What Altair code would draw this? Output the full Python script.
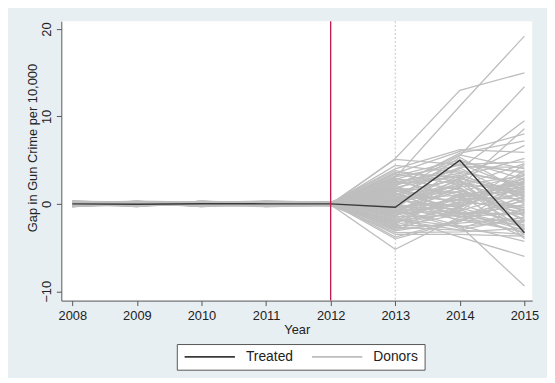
import altair as alt
import pandas as pd

years = [2008, 2009, 2010, 2011, 2012, 2013, 2014, 2015]
treated_gap = [0.0, -0.05, 0.02, 0.0, 0.0, -0.4, 5.0, -3.3]

d2008 = [0.2,-0.1,0.1,0.0,-0.2,0.1,0.3,-0.1,0.0,0.2,-0.3,0.1,-0.2,0.0,0.1,-0.1,0.2,0.0,-0.2,0.1,
         0.0,0.1,-0.1,0.2,-0.2,0.0,0.1,-0.3,0.2,0.0,-0.1,0.1,0.0,-0.2,0.3,-0.1,0.1,0.0,-0.1,0.2,
         0.0,-0.2,0.1,0.0,0.2,-0.1,0.0,0.1,-0.2,0.1,0.0,0.2,-0.1,0.0,0.1,-0.3,0.2,0.0,-0.1,0.1,
         0.0,0.2,-0.2,0.1,0.0,-0.1,0.3,0.0,-0.2,0.1,
         0.3,-0.3,0.2,-0.2,0.3,-0.1,0.1,-0.3,0.2,0.0,-0.2,0.3,-0.1,0.2,-0.3,0.1,0.0,0.3,-0.2,0.1]
d2009 = [-0.1,0.2,0.0,0.1,-0.1,-0.2,0.1,0.2,-0.1,0.0,0.1,-0.2,0.0,0.2,-0.1,0.1,0.0,-0.2,0.1,0.0,
         0.2,-0.1,0.0,0.1,0.0,-0.2,0.2,0.1,-0.1,0.0,0.1,-0.1,0.2,0.0,-0.2,0.1,0.0,-0.1,0.2,0.0,
         -0.1,0.1,0.0,-0.2,0.1,0.2,-0.1,0.0,0.1,-0.1,0.2,0.0,-0.2,0.1,0.0,0.1,-0.1,0.2,0.0,-0.2,
         0.1,0.0,-0.1,0.2,-0.1,0.0,0.1,-0.2,0.0,0.2,
         -0.2,0.3,-0.3,0.1,0.2,-0.2,0.3,-0.1,0.1,-0.3,0.2,-0.1,0.3,-0.2,0.0,0.2,-0.3,0.1,0.3,-0.1]
d2010 = [0.1,0.0,-0.2,0.2,0.0,0.1,-0.1,0.0,0.2,-0.1,0.0,0.1,0.2,-0.1,0.0,-0.2,0.1,0.1,0.0,-0.1,
         0.1,0.0,0.2,-0.2,0.1,0.0,-0.1,0.0,0.1,0.2,-0.2,0.0,0.1,-0.1,0.0,0.2,-0.1,0.1,0.0,-0.1,
         0.2,0.0,-0.1,0.1,0.0,-0.2,0.1,0.2,0.0,-0.1,0.1,-0.1,0.0,0.2,-0.1,0.0,0.1,-0.2,0.1,0.0,
         -0.1,0.1,0.2,0.0,-0.1,0.1,0.0,-0.1,0.2,0.0,
         0.2,-0.2,0.3,-0.3,0.1,0.3,-0.2,0.2,-0.1,0.3,-0.3,0.1,-0.2,0.3,0.2,-0.3,0.1,-0.1,0.2,-0.2]
d2011 = [0.0,0.1,-0.1,0.0,0.2,-0.1,0.0,0.1,-0.2,0.1,0.2,0.0,-0.1,0.1,-0.2,0.0,0.1,-0.1,0.2,0.0,
         -0.1,0.2,0.0,-0.1,0.1,0.1,-0.2,0.0,0.0,0.1,-0.1,0.2,-0.1,0.0,0.1,-0.1,0.0,0.2,-0.1,0.1,
         0.0,-0.1,0.2,0.0,-0.1,0.1,0.0,-0.2,0.1,0.0,-0.1,0.1,0.2,-0.1,0.0,0.1,-0.1,0.0,0.2,-0.1,
         0.1,-0.2,0.0,0.1,0.2,-0.1,0.0,0.1,-0.1,0.0,
         -0.3,0.2,-0.1,0.3,-0.2,0.1,-0.3,0.3,0.2,-0.2,0.1,-0.3,0.2,0.0,0.3,-0.1,0.2,-0.2,-0.1,0.3]
d2012 = [0.1,-0.1,0.0,0.1,-0.1,0.0,0.2,-0.1,0.1,0.0,-0.1,0.0,0.1,-0.2,0.0,0.1,-0.1,0.0,0.1,0.1,
         0.0,-0.1,0.1,0.0,-0.1,0.2,0.0,-0.1,0.0,-0.1,0.1,0.0,-0.2,0.1,0.0,0.0,0.1,-0.1,0.0,0.2,
         -0.1,0.0,0.1,-0.1,0.0,0.1,-0.2,0.0,0.1,0.0,-0.1,0.0,0.1,0.0,-0.1,0.2,0.0,-0.1,0.1,0.0,
         0.0,0.1,-0.1,0.0,0.1,-0.1,0.0,0.2,-0.1,0.0,
         0.1,-0.2,0.2,-0.1,0.0,0.2,-0.2,0.1,-0.1,0.2,0.0,-0.2,0.1,-0.1,0.2,0.0,-0.1,0.1,-0.2,0.2]
d2013 = [3.0,5.2,1.5,2.5,1.0,3.5,2.0,-1.0,4.0,5.1,
         -5.2,-2.5,-1.5,0.5,-0.5,3.8,2.8,1.2,-3.5,-4.0,
         0.0,-1.2,2.2,-2.0,0.8,-0.8,1.8,-2.8,0.3,-1.8,
         2.6,-0.2,1.4,-3.0,0.6,-1.4,3.2,-0.6,2.0,-2.2,
         1.0,-0.9,0.2,-3.3,1.6,-1.6,2.4,-0.4,0.9,-2.6,
         3.4,-1.1,0.4,1.7,-0.7,2.9,-2.4,0.1,1.3,-1.9,
         3.6,-0.3,0.7,-2.9,2.1,-1.3,4.4,-3.8,1.1,-0.1,
         1.9,-2.1,0.5,-1.7,2.7,-0.5,1.2,-2.3,3.1,-1.0,
         0.2,-3.1,1.5,-0.8,2.3,-1.5,0.6,-2.7,1.8,-0.2]
d2014 = [11.2,13.0,5.5,4.0,2.0,6.0,5.8,3.0,6.2,4.5,
         -1.5,-2.5,-3.8,1.0,0.5,2.5,4.8,-0.5,-3.5,-2.0,
         2.2,0.8,3.5,-1.0,-2.0,1.5,0.0,0.3,3.2,-3.0,
         1.0,-1.5,2.8,-0.5,-0.8,2.0,5.0,-2.5,-1.2,1.2,
         4.2,-0.2,1.8,-3.2,-1.0,0.6,3.8,-1.8,0.4,-1.2,
         2.2,2.6,-0.3,4.6,-2.8,1.6,-0.8,2.4,-1.6,0.9,
         3.0,-0.6,1.4,-2.2,5.6,0.2,3.6,-1.8,2.9,-1.1,
         3.3,-0.4,2.1,-2.6,0.7,4.1,-1.4,1.1,4.4,-0.9,
         2.7,-2.0,0.1,1.9,3.1,-1.3,5.3,-3.0,1.3,-0.1]
d2015 = [19.2,15.0,13.4,9.5,8.6,8.0,7.2,6.7,5.9,4.8,
         -1.0,-9.4,-6.0,2.0,-1.0,1.0,3.5,4.5,-3.7,0.5,
         -2.0,1.5,0.0,-3.0,2.5,-0.5,-2.5,3.0,1.2,-1.5,
         -3.5,0.8,-4.0,-2.2,3.8,2.2,2.8,-4.3,0.3,-0.8,
         4.2,1.8,-1.8,-2.8,-1.2,0.6,2.0,-3.2,1.0,-0.2,
         3.2,-2.6,2.6,1.6,-0.6,-1.4,1.4,0.2,-2.0,2.4,
         0.8,-3.8,3.4,-1.6,4.0,-0.4,2.3,-2.4,1.1,-1.1,
         -2.9,2.7,4.6,-1.9,1.7,0.4,-3.3,1.9,3.7,-2.7,
         -0.9,0.9,2.9,-3.0,5.2,-0.1,1.3,-3.5,-0.7,3.3]

donor_by_year = [d2008, d2009, d2010, d2011, d2012, d2013, d2014, d2015]

rows = []
for yi, yr in enumerate(years):
    for di, v in enumerate(donor_by_year[yi]):
        rows.append({"donor": di, "year": yr, "gap": v, "group": "Donors"})
donors_df = pd.DataFrame(rows)
treated_df = pd.DataFrame({"year": years, "gap": treated_gap, "group": "Treated"})

BLUE_BG = "#e8eff2"
FONT = "Liberation Sans"

xscale = alt.Scale(domain=[2007.83, 2015.12], nice=False, zero=False)
yscale = alt.Scale(domain=[-11.07, 20.9], nice=False, zero=False)
color_scale = alt.Scale(domain=["Treated", "Donors"], range=["#3a3a3a", "#bebebe"])

x_axis = alt.Axis(values=years, format="d", grid=False, title="Year",
                  tickSize=5, labelPadding=4, labelFontSize=13, labelFlush=False,
                  titleFontSize=13, titleFontWeight="normal", titleY=23, titleBaseline="top")
y_axis = alt.Axis(values=[-10, 0, 10, 20], grid=False, title="Gap in Gun Crime per 10,000",
                  tickSize=5, labelPadding=3, labelFontSize=13, labelAngle=270,
                  labelAlign="center", labelBaseline="bottom",
                  titleFontSize=13, titleFontWeight="normal", titleAngle=270,
                  titleAlign="center", titleBaseline="bottom", titleX=-22, titleY=128)

legend = alt.Legend(title=None, orient="none", legendX=117, legendY=327, direction="horizontal",
                    symbolType="M-1,0H9", symbolSize=104, symbolStrokeWidth=1.6,
                    labelOffset=50, columnPadding=15, padding=6,
                    fillColor="white", strokeColor="#555555",
                    labelFontSize=14, labelFont=FONT, labelColor="#222222")

dotted = alt.Chart(pd.DataFrame({"year": [2013]})).mark_rule(
    color="#c4c4c4", strokeDash=[2, 2], strokeWidth=1
).encode(x=alt.X("year:Q", scale=xscale, axis=x_axis))

donor_lines = alt.Chart(donors_df).mark_line(strokeWidth=1.3).encode(
    x=alt.X("year:Q", scale=xscale, axis=x_axis),
    y=alt.Y("gap:Q", scale=yscale, axis=y_axis),
    detail="donor:N",
    color=alt.Color("group:N", scale=color_scale, legend=legend),
)

treated_line = alt.Chart(treated_df).mark_line(strokeWidth=1.5).encode(
    x=alt.X("year:Q", scale=xscale),
    y=alt.Y("gap:Q", scale=yscale),
    color=alt.Color("group:N", scale=color_scale, legend=legend),
)

red_rule = alt.Chart(pd.DataFrame({"year": [2012]})).mark_rule(
    color="#c2184a", strokeWidth=1.3
).encode(x=alt.X("year:Q", scale=xscale))

chart = alt.layer(dotted, donor_lines, treated_line, red_rule).properties(
    width=477, height=283,
    autosize=alt.AutoSizeParams(type="none"),
    padding={"left": 54, "top": 11, "right": 15, "bottom": 76},
    title=alt.TitleParams("(p) Lowell, MA", frame="group", anchor="middle", dx=-29,
                          offset=8, baseline="alphabetic", font="Liberation Serif",
                          fontSize=22, fontWeight="normal", color="#111111"),
).configure(
    background=BLUE_BG,
).configure_view(
    fill="white", stroke=None,
).configure_axis(
    labelFont=FONT, titleFont=FONT, labelColor="#222222", titleColor="#222222",
    domainColor="#555555", tickColor="#555555", domainWidth=1, tickWidth=1,
)

chart.save("out.html", embed_options={"renderer": "svg", "actions": False})
